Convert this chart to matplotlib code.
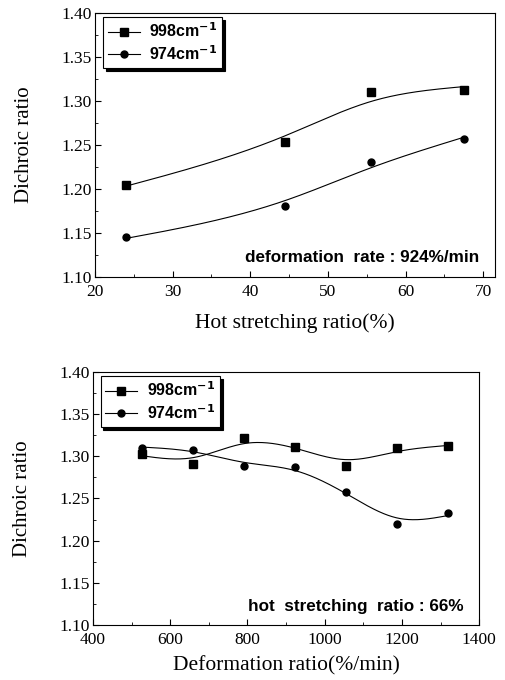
import matplotlib

matplotlib.use("Agg")
import matplotlib.pyplot as plt
import numpy as np
from matplotlib.ticker import MultipleLocator

# top panel: hot stretching ratio (%)
stretch = [24, 44.5, 55.5, 67.5]
stretch_998 = [1.204, 1.253, 1.310, 1.312]
stretch_974 = [1.145, 1.181, 1.230, 1.257]

# bottom panel: deformation ratio (%/min)
rate = [528, 660, 792, 924, 1056, 1188, 1320]
rate_998 = [1.303, 1.291, 1.322, 1.311, 1.289, 1.310, 1.312]
rate_974 = [1.310, 1.308, 1.288, 1.287, 1.258, 1.220, 1.233]

labels = [r"998cm$^{\mathbf{-1}}$", r"974cm$^{\mathbf{-1}}$"]

SERIF = "Liberation Serif"
SANS = "Liberation Sans"


def smooth_curve(x, y, lam, n=300):
    # penalised least squares on a fine grid (smoothing-spline like)
    x = np.asarray(x, float)
    y = np.asarray(y, float)
    u = (x - x.min()) / (x.max() - x.min())
    grid = np.linspace(0, 1, n)
    h = grid[1] - grid[0]
    idx = np.rint(u / h).astype(int)
    W = np.zeros((n, n))
    rhs = np.zeros(n)
    W[idx, idx] = 1.0
    rhs[idx] = y
    D = np.diff(np.eye(n), 2, axis=0)
    z = np.linalg.solve(W + lam / h**3 * D.T @ D, rhs)
    return x.min() + grid * (x.max() - x.min()), z


def panel(ax, x, y1, y2, lam1, lam2, xlim, xmajor, xminor, xlabel, xpad, note):
    for y, mk, ms, lam, lab in [(y1, "s", 5.5, lam1, labels[0]), (y2, "o", 5, lam2, labels[1])]:
        xs, ys = smooth_curve(x, y, lam)
        ax.plot(xs, ys, color="black", lw=0.8)
        ax.plot(x, y, ls="none", marker=mk, ms=ms, color="black")
        ax.plot([], [], color="black", lw=0.8, marker=mk, ms=ms, label=lab)
    ax.set_xlim(*xlim)
    ax.set_ylim(1.10, 1.40)
    ax.xaxis.set_major_locator(MultipleLocator(xmajor))
    ax.xaxis.set_minor_locator(MultipleLocator(xminor))
    ax.yaxis.set_major_locator(MultipleLocator(0.05))
    ax.yaxis.set_minor_locator(MultipleLocator(0.025))
    ax.yaxis.set_major_formatter(lambda v, p: f"{v:.2f}")
    ax.tick_params(which="both", direction="in", labelsize=12.5)
    ax.tick_params(axis="y", pad=2)
    ax.tick_params(axis="x", pad=5)
    ax.tick_params(which="major", length=4)
    ax.tick_params(which="minor", length=2.5)
    for t in ax.get_xticklabels() + ax.get_yticklabels():
        t.set_fontfamily(SERIF)
    ax.set_xlabel(xlabel, fontsize=15.5, family=SERIF, labelpad=xpad)
    ax.set_ylabel("Dichroic ratio", fontsize=15, family=SERIF, labelpad=20)
    leg = ax.legend(loc="upper left", bbox_to_anchor=(0.02, 0.985), borderaxespad=0,
                    fancybox=False, shadow={"color": "black", "alpha": 1},
                    prop={"family": SANS, "weight": "bold", "size": 11.5},
                    handlelength=2.0, handletextpad=0.6, borderpad=0.3,
                    labelspacing=0.25, framealpha=1)
    leg.get_frame().set_edgecolor("black")
    leg.get_frame().set_linewidth(0.8)
    ax.text(0.96, 0.045, note, transform=ax.transAxes, ha="right", va="bottom",
            family=SANS, weight="bold", fontsize=12.3)
    for s in ax.spines.values():
        s.set_linewidth(0.8)


fig = plt.figure(figsize=(5.05, 6.8), dpi=100)
ax1 = fig.add_axes([0.188, 0.593, 0.792, 0.388])
ax2 = fig.add_axes([0.184, 0.081, 0.765, 0.372])

panel(ax1, stretch, stretch_998, stretch_974, 2e-3, 2.5e-3, (20, 71.5), 10, 5,
      "Hot stretching ratio(%)", 10, "deformation  rate : 924%/min")
panel(ax2, rate, rate_998, rate_974, 3e-4, 3e-4, (400, 1400), 200, 100,
      "Deformation ratio(%/min)", 6, "hot  stretching  ratio : 66%")

fig.savefig("out.png", dpi=100)
